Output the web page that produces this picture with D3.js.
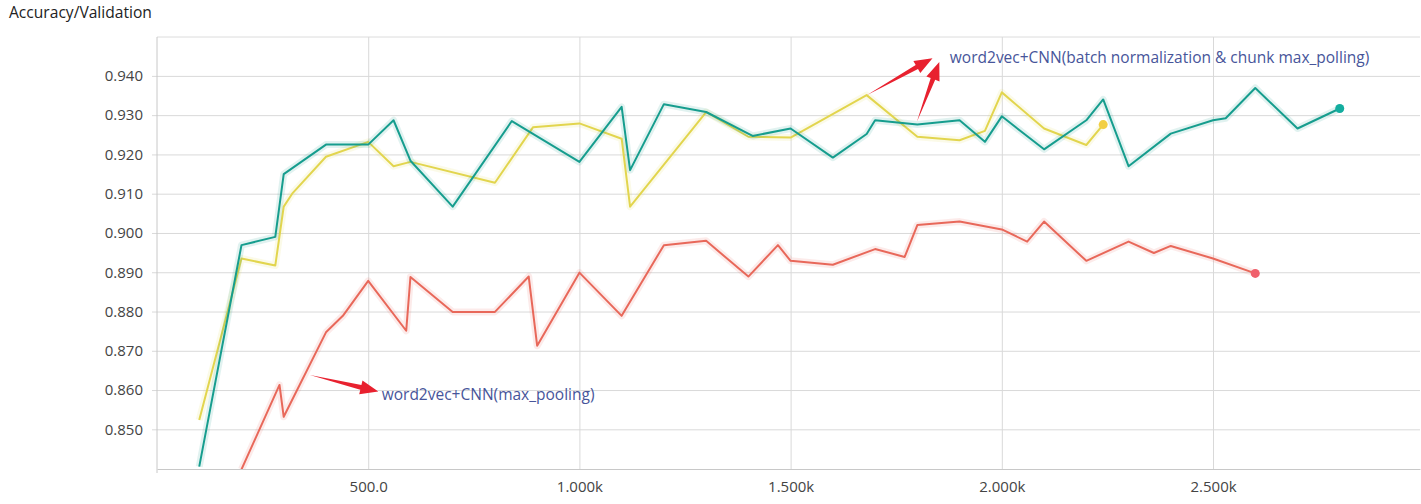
<!DOCTYPE html>
<html>
<head>
<meta charset="utf-8">
<script src="https://cdnjs.cloudflare.com/ajax/libs/d3/7.8.5/d3.min.js"></script>
<style>
  body { margin: 0; background: #ffffff; }
  text { font-family: 'Open Sans', 'Noto Sans', sans-serif; }
</style>
</head>
<body>
<svg id="canvas"></svg>
<script>
// Steps and accuracy values.
var tealSteps = [100, 200, 280, 300, 400, 500, 560, 600, 700, 840, 1000, 1100, 1120, 1200, 1300, 1410, 1500,
                 1600, 1680, 1700, 1800, 1900, 1960, 2000, 2100, 2200, 2240, 2300, 2400, 2500, 2530, 2600, 2700, 2800];
var tealValues = [0.8405, 0.8969, 0.8990, 0.9150, 0.9225, 0.9225, 0.9287, 0.9184, 0.9067, 0.9285, 0.9181, 0.9321, 0.9160, 0.9328, 0.9308, 0.9247, 0.9266,
                  0.9192, 0.9252, 0.9287, 0.9276, 0.9287, 0.9232, 0.9297, 0.9213, 0.9287, 0.9340, 0.9170, 0.9253, 0.9287, 0.9292, 0.9369, 0.9266, 0.9317];

var yellowSteps = [100, 200, 280, 300, 320, 400, 500, 560, 600, 800, 890, 1000, 1100, 1120, 1300, 1400, 1500,
                   1680, 1800, 1900, 1960, 2000, 2100, 2200, 2240];
var yellowValues = [0.8524, 0.8935, 0.8917, 0.9067, 0.9100, 0.9194, 0.9232, 0.9170, 0.9181, 0.9128, 0.9269, 0.9279, 0.9240, 0.9067, 0.9308, 0.9245, 0.9243,
                    0.9351, 0.9245, 0.9236, 0.9260, 0.9358, 0.9266, 0.9224, 0.9276];

var redSteps = [200, 290, 300, 400, 440, 500, 590, 600, 700, 800, 880, 900, 1000, 1100, 1200, 1300, 1400, 1470, 1500,
                1600, 1700, 1770, 1800, 1900, 2000, 2060, 2100, 2200, 2300, 2360, 2400, 2500, 2600];
var redValues = [0.8398, 0.8613, 0.8532, 0.8747, 0.8789, 0.8878, 0.8751, 0.8888, 0.8799, 0.8799, 0.8889, 0.8713, 0.8899, 0.8789, 0.8969, 0.8980, 0.8889, 0.8969, 0.8929,
                 0.8919, 0.8959, 0.8939, 0.9020, 0.9029, 0.9009, 0.8978, 0.9029, 0.8929, 0.8978, 0.8949, 0.8967, 0.8935, 0.8897];

// Tick values.
var xTicks = [500, 1000, 1500, 2000, 2500];
var yTicks = [0.850, 0.860, 0.870, 0.880, 0.890, 0.900, 0.910, 0.920, 0.930, 0.940];

// Annotation texts and where they point (step, value).
var annoTexts = ['word2vec+CNN(max_pooling)', 'word2vec+CNN(batch normalization & chunk max_polling)'];
var annoTextAt = [[532, 0.8575], [1877, 0.9434]];
var annoArrows = [[[362, 0.8638], [524, 0.8596]],
                  [[1681, 0.9351], [1836, 0.9445]],
                  [[1799, 0.9283], [1852, 0.9435]]];

// Canvas dimensions.
var canvasWidth = 1421;
var canvasHeight = 504;

// Plot area.
var plotLeft = 157, plotRight = 1420, plotTop = 37, plotBottom = 469;

var svg = d3.select('#canvas')
            .attr('width', canvasWidth)
            .attr('height', canvasHeight);

var translation = function(x, y) {
  return 'translate(' + x + ',' + y + ')';
}

// Scales.
var xScale = d3.scaleLinear().domain([0, 2990]).range([plotLeft, plotRight]);
var yScale = d3.scaleLinear().domain([0.8399, 0.9499]).range([plotBottom, plotTop]);

// Title.
svg.append('text')
   .attr('x', 9)
   .attr('y', 18)
   .attr('font-size', 15.6)
   .attr('fill', '#222')
   .text('Accuracy/Validation');

// Top border line.
svg.append('line')
   .attr('x1', plotLeft).attr('x2', plotRight)
   .attr('y1', plotTop).attr('y2', plotTop)
   .attr('stroke', '#dcdcdc');

// Vertical axis with horizontal grid.
var yAxis = d3.axisLeft(yScale)
              .tickValues(yTicks)
              .tickSize(-(plotRight - plotLeft + 5))
              .tickSizeOuter(0)
              .tickPadding(9)
              .tickFormat(d3.format('.3f'));
var yG = svg.append('g')
            .attr('transform', translation(plotLeft - 5, 0))
            .call(yAxis);
yG.select('.domain').remove();
yG.selectAll('line').attr('stroke', '#d9d9d9');
yG.selectAll('text').attr('font-size', 15).attr('fill', '#444').attr('font-family', "'Open Sans', sans-serif");

// Horizontal axis with vertical grid.
var xFormat = function(d) {
  return d < 1000 ? d3.format('.1f')(d) : d3.format('.3f')(d / 1000) + 'k';
}
var xAxis = d3.axisBottom(xScale)
              .tickValues(xTicks)
              .tickSize(-(plotBottom - plotTop))
              .tickSizeOuter(0)
              .tickPadding(12)
              .tickFormat(xFormat);
var xG = svg.append('g')
            .attr('transform', translation(0, plotBottom))
            .call(xAxis);
xG.select('.domain').attr('stroke', '#c8c8c8');
xG.selectAll('line').attr('stroke', '#d9d9d9');
xG.selectAll('text').attr('font-size', 15).attr('fill', '#444').attr('font-family', "'Open Sans', sans-serif");

// Left axis line.
svg.append('line')
   .attr('x1', plotLeft).attr('x2', plotLeft)
   .attr('y1', plotTop).attr('y2', plotBottom + 4)
   .attr('stroke', '#c8c8c8');

// Clip lines to the plot area.
svg.append('clipPath')
   .attr('id', 'plot-clip')
   .append('rect')
   .attr('x', plotLeft).attr('y', plotTop)
   .attr('width', plotRight - plotLeft).attr('height', plotBottom - plotTop);

var line = d3.line()
             .x(function(d) { return xScale(d[0]); })
             .y(function(d) { return yScale(d[1]); });

var series = [
  {steps: yellowSteps, values: yellowValues, color: '#e2d54e', dot: '#f2cf45'},
  {steps: tealSteps, values: tealValues, color: '#169d8e', dot: '#14ad9f'},
  {steps: redSteps, values: redValues, color: '#e8685a', dot: '#f0606c'}
];

var plot = svg.append('g').attr('clip-path', 'url(#plot-clip)');

series.forEach(function(s) {
  var pts = s.steps.map(function(st, i) { return [st, s.values[i]]; });

  // Faint halo under the line.
  plot.append('path')
      .attr('d', line(pts))
      .attr('fill', 'none')
      .attr('stroke', s.color)
      .attr('stroke-opacity', 0.13)
      .attr('stroke-width', 7)
      .attr('stroke-linejoin', 'round');

  plot.append('path')
      .attr('d', line(pts))
      .attr('fill', 'none')
      .attr('stroke', s.color)
      .attr('stroke-width', 2)
      .attr('stroke-linejoin', 'round');

  // Dot at the last point.
  var last = pts[pts.length - 1];
  svg.append('circle')
     .attr('cx', xScale(last[0]))
     .attr('cy', yScale(last[1]))
     .attr('r', 4.5)
     .attr('fill', s.dot);
});

// Tapered arrow from tail to tip.
var arrowPath = function(x1, y1, x2, y2) {
  var dx = x2 - x1, dy = y2 - y1;
  var len = Math.sqrt(dx * dx + dy * dy);
  var ux = dx / len, uy = dy / len;
  var nx = -uy, ny = ux;
  var headLen = 18, headW = 7, shaftW = 2.4;
  var bx = x2 - ux * headLen, by = y2 - uy * headLen;
  var p = [
    [x1, y1],
    [bx + nx * shaftW, by + ny * shaftW],
    [bx + nx * headW, by + ny * headW],
    [x2, y2],
    [bx - nx * headW, by - ny * headW],
    [bx - nx * shaftW, by - ny * shaftW]
  ];
  return 'M' + p.map(function(q) { return q[0].toFixed(1) + ',' + q[1].toFixed(1); }).join('L') + 'Z';
}

annoArrows.forEach(function(a) {
  svg.append('path')
     .attr('d', arrowPath(xScale(a[0][0]), yScale(a[0][1]), xScale(a[1][0]), yScale(a[1][1])))
     .attr('fill', '#e8212f');
});

annoTexts.forEach(function(t, i) {
  svg.append('text')
     .attr('x', xScale(annoTextAt[i][0]))
     .attr('y', yScale(annoTextAt[i][1]))
     .attr('font-size', 15.5)
     .attr('fill', '#47559a')
     .text(t);
});
</script>
</body>
</html>
